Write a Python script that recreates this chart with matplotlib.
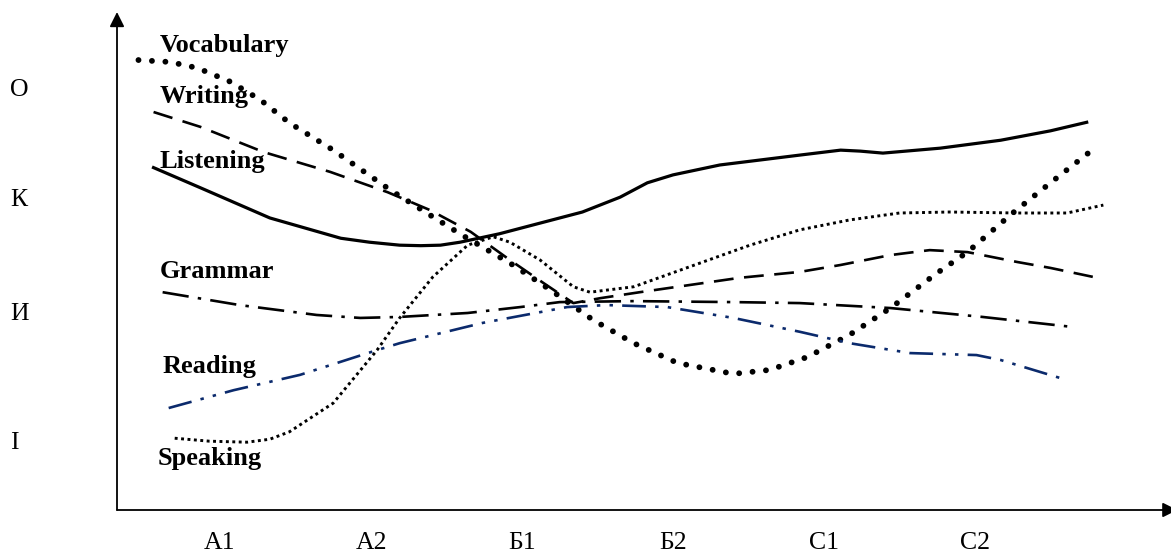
import matplotlib.pyplot as plt

# levels on x (А1 = 1 ... С2 = 6), score 0-100 on y
levels = ["А1", "А2", "Б1", "Б2", "С1", "С2"]
axis_letters = ["О", "К", "И", "І"]
axis_letter_pos = [85.3, 63.2, 40.0, 14.1]

listening_x = [0.55, 0.87, 1.33, 1.80, 1.99, 2.19, 2.33, 2.46, 2.59, 2.85, 3.05, 3.40, 3.65,
               3.83, 4.00, 4.31, 4.84, 5.11, 5.24, 5.39, 5.77, 6.17, 6.50, 6.75]
listening_y = [69.3, 65.1, 59.0, 54.9, 54.1, 53.5, 53.4, 53.5, 54.1, 55.8, 57.4, 60.2, 63.2,
               66.1, 67.7, 69.7, 71.7, 72.7, 72.5, 72.1, 73.1, 74.7, 76.6, 78.4]

vocab_x = [0.46, 0.67, 0.85, 1.07, 1.27, 1.46, 1.75, 2.13, 2.39, 2.60, 2.94, 3.21, 3.47,
           3.74, 4.03, 4.40, 4.64, 4.89, 5.17, 5.44, 5.75, 5.95, 6.25, 6.50, 6.75]
vocab_y = [90.9, 90.5, 89.3, 86.5, 82.8, 78.2, 72.7, 64.6, 59.6, 55.6, 49.5, 44.0, 38.4,
           33.7, 29.7, 27.5, 28.3, 30.9, 35.4, 40.8, 47.9, 52.1, 60.0, 66.1, 72.1]

writing_x = [0.56, 0.87, 1.29, 1.73, 2.11, 2.39, 2.66, 2.92, 3.14, 3.34, 3.52, 3.78,
             4.03, 4.44, 4.84, 5.11, 5.44, 5.70, 5.95, 6.28, 6.50, 6.78]
writing_y = [80.4, 77.4, 72.3, 68.3, 64.2, 60.6, 56.2, 50.5, 45.9, 41.8, 42.8, 44.0,
             45.1, 46.9, 48.1, 49.5, 51.5, 52.5, 52.1, 50.1, 48.9, 47.1]

speaking_x = [0.70, 0.93, 1.18, 1.33, 1.46, 1.75, 2.04, 2.19, 2.41, 2.64, 2.81, 2.92, 3.12,
              3.34, 3.45, 3.74, 4.18, 4.51, 4.84, 5.17, 5.50, 5.83, 6.28, 6.61, 6.85]
speaking_y = [14.5, 13.9, 13.7, 14.3, 15.8, 21.6, 32.3, 38.8, 47.1, 53.5, 55.2, 54.1, 50.5,
              45.1, 44.0, 45.1, 49.9, 53.5, 56.6, 58.6, 60.0, 60.2, 60.0, 60.0, 61.6]

grammar_x = [0.62, 1.13, 1.64, 1.93, 2.19, 2.64, 2.99, 3.25, 3.74, 4.40, 4.84, 5.44, 6.05, 6.64]
grammar_y = [44.0, 41.4, 39.4, 38.8, 39.0, 39.8, 41.0, 42.0, 42.2, 42.0, 41.8, 40.8, 39.0, 37.0]

reading_x = [0.66, 1.09, 1.53, 2.04, 2.19, 2.74, 3.30, 3.56, 3.96, 4.40, 4.84, 5.17,
             5.57, 6.01, 6.17, 6.56]
reading_y = [20.6, 24.2, 27.3, 32.3, 33.7, 37.8, 41.0, 41.4, 41.0, 38.8, 36.0, 33.7,
             31.7, 31.3, 30.3, 26.7]

labels = ["Vocabulary", "Writing", "Listening", "Grammar", "Reading", "Speaking"]
label_x = [0.60, 0.60, 0.60, 0.60, 0.62, 0.59]
label_y = [92.5, 82.2, 69.1, 46.9, 27.7, 9.1]

plt.rcParams['font.family'] = ['Liberation Serif', 'DejaVu Serif']

fig = plt.figure(figsize=(11.71, 5.57), dpi=100)
ax = fig.add_axes([117 / 1171, 47 / 557, 1 - 117 / 1171, (510 - 15) / 557])
ax.set_xlim(1 - 103 / 151, 1 + 951 / 151)
ax.set_ylim(0, 100)

navy = "#0b2a6c"
ax.plot(listening_x, listening_y, color="black", lw=2.3, solid_capstyle="butt",
        solid_joinstyle="round")
ax.plot(vocab_x, vocab_y, color="black", lw=4.2, linestyle=(0, (0.01, 2.3)),
        dash_capstyle="round")
ax.plot(writing_x, writing_y, color="black", lw=1.9, linestyle=(0, (7.5, 4)))
ax.plot(speaking_x, speaking_y, color="black", lw=2.1, linestyle=(0, (1, 1.2)))
ax.plot(grammar_x, grammar_y, color="black", lw=1.9, linestyle=(0, (10, 3.5, 1.3, 3.5)))
ax.plot(reading_x, reading_y, color=navy, lw=1.9,
        linestyle=(0, (9, 3.5, 1.3, 3.5, 1.3, 3.5)))

for name, lx, ly in zip(labels, label_x, label_y):
    ax.text(lx, ly, name, fontsize=19, fontweight="bold", ha="left", va="baseline")

# axes drawn as arrows
for s in ax.spines.values():
    s.set_visible(False)
ax.annotate("", xy=(0, 1.006), xytext=(0, 0), xycoords="axes fraction",
            arrowprops=dict(arrowstyle="-|>", color="black", lw=1.3,
                            mutation_scale=22, shrinkA=0, shrinkB=0),
            annotation_clip=False)
ax.annotate("", xy=(1.006, 0), xytext=(0, 0), xycoords="axes fraction",
            arrowprops=dict(arrowstyle="-|>", color="black", lw=1.3,
                            mutation_scale=22, shrinkA=0, shrinkB=0),
            annotation_clip=False)

ax.set_xticks(range(1, 7))
ax.set_xticklabels(levels, fontsize=18.5)
ax.set_yticks(axis_letter_pos)
ax.set_yticklabels(axis_letters, fontsize=18.5, ha="left")
ax.tick_params(axis="x", length=0, pad=16)
ax.tick_params(axis="y", length=0, pad=77)

fig.savefig("out.png", dpi=100)
